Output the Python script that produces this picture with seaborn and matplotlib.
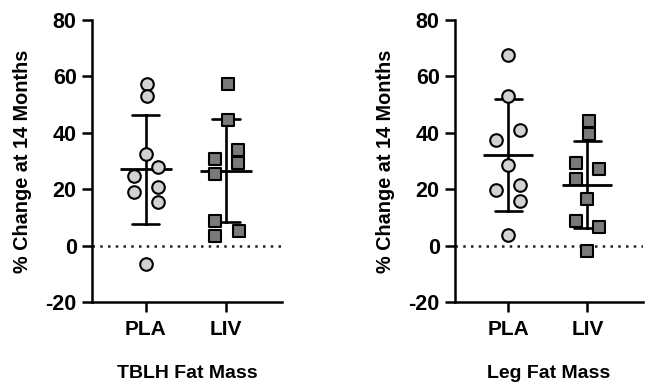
import numpy as np
import pandas as pd
import matplotlib
matplotlib.use("Agg")
import matplotlib.pyplot as plt
import seaborn as sns

groups = ["PLA", "LIV"]

tblh_pla = [57.3, 52.9, 32.5, 27.8, 24.6, 20.7, 18.9, 15.4, -6.5]
tblh_liv = [57.3, 44.7, 34.0, 30.7, 29.3, 25.5, 8.9, 5.1, 3.3]
leg_pla = [67.7, 53.2, 40.9, 37.6, 28.5, 21.4, 19.6, 15.7, 3.7]
leg_liv = [44.1, 39.7, 29.3, 27.0, 23.6, 16.6, 8.9, 6.5, -2.0]

# horizontal scatter offsets (in category units)
tblh_pla_dx = [0.02, 0.02, 0.0, 0.15, -0.15, 0.15, -0.15, 0.15, 0.0]
tblh_liv_dx = [0.02, 0.02, 0.15, -0.14, 0.15, -0.14, -0.14, 0.16, -0.14]
leg_pla_dx = [0.0, 0.0, 0.15, -0.15, 0.0, 0.15, -0.15, 0.15, 0.0]
leg_liv_dx = [0.02, 0.02, -0.14, 0.15, -0.14, 0.0, -0.14, 0.15, 0.0]

panel_titles = ["TBLH Fat Mass", "Leg Fat Mass"]
ylabel = "% Change at 14 Months"
yticks = [-20, 0, 20, 40, 60, 80]

sns.set_style("ticks")
plt.rcParams["font.family"] = ["Liberation Sans", "DejaVu Sans"]
plt.rcParams["font.weight"] = "bold"
plt.rcParams["text.color"] = "black"
plt.rcParams["axes.labelcolor"] = "black"
plt.rcParams["xtick.color"] = "black"
plt.rcParams["ytick.color"] = "black"

fig = plt.figure(figsize=(6.47, 3.86), dpi=100)
ax1 = fig.add_axes([0.1422, 0.2176, 0.2937, 0.7306])
ax2 = fig.add_axes([0.7032, 0.2176, 0.2906, 0.7306])

panels = [
    (ax1, tblh_pla, tblh_liv, tblh_pla_dx, tblh_liv_dx, panel_titles[0], 38),
    (ax2, leg_pla, leg_liv, leg_pla_dx, leg_liv_dx, panel_titles[1], 36),
]

for ax, pla, liv, pdx, ldx, title, msz in panels:
    df = pd.DataFrame({
        "group": [groups[0]] * len(pla) + [groups[1]] * len(liv),
        "value": pla + liv,
    })
    df["pos"] = [0 + d for d in pdx] + [1 + d for d in ldx]

    ax.axhline(0, color="#222222", linestyle=(0, (1, 2.1)), linewidth=1.8, zorder=1)

    sns.pointplot(data=df, x="group", y="value", order=groups, errorbar="sd",
                  capsize=0.34, linestyle="none", marker="_", markersize=msz,
                  markeredgewidth=2.0, color="black",
                  err_kws={"linewidth": 1.9}, ax=ax, zorder=2)

    sub_pla = df[df.group == groups[0]]
    sub_liv = df[df.group == groups[1]]
    sns.scatterplot(x=sub_pla["pos"].values, y=sub_pla["value"].values, marker="o",
                    s=82, color="#d2d2d2", edgecolor="black", linewidth=1.5,
                    ax=ax, zorder=3)
    sns.scatterplot(x=sub_liv["pos"].values, y=sub_liv["value"].values, marker="s",
                    s=80, color="#7a7a7a", edgecolor="black", linewidth=1.5,
                    ax=ax, zorder=3)

    ax.set_xlim(-0.67, 1.7)
    ax.set_ylim(-20, 80)
    ax.set_yticks(yticks)
    ax.set_yticklabels([str(t) for t in yticks], fontsize=15.5, fontweight="bold")
    ax.set_xticks([0, 1])
    ax.set_xticklabels(groups, fontsize=15, fontweight="bold")
    ax.set_ylabel(ylabel, fontsize=14.3, fontweight="bold", labelpad=10)
    ax.set_xlabel(title, fontsize=14, fontweight="bold", labelpad=19)
    sns.despine(ax=ax)
    for sp in ["left", "bottom"]:
        ax.spines[sp].set_linewidth(1.8)
        ax.spines[sp].set_color("black")
    ax.tick_params(axis="both", width=1.8, length=7, color="black", labelcolor="black")
    ax.tick_params(axis="y", pad=4)
    ax.tick_params(axis="x", pad=6)

fig.savefig("out.png", dpi=100)
